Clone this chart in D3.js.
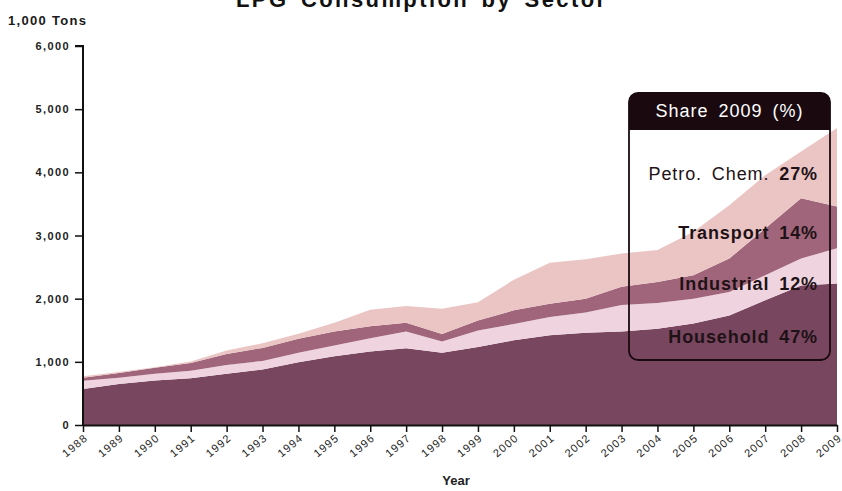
<!DOCTYPE html>
<html><head><meta charset="utf-8">
<script src="https://cdn.jsdelivr.net/npm/d3@7"></script>
<style>body{margin:0;background:#fff}svg{display:block;font-family:"Liberation Sans",Arial,sans-serif}</style>
</head><body><svg id="c" width="842" height="491"></svg>
<script>
const years = [1988,1989,1990,1991,1992,1993,1994,1995,1996,1997,1998,1999,2000,2001,2002,2003,2004,2005,2006,2007,2008,2009];
const household  = [570,650,705,740,810,880,995,1090,1165,1215,1145,1235,1340,1420,1460,1480,1525,1605,1735,1975,2210,2240];
const industrial = [130,100,105,120,140,135,150,170,210,265,175,260,260,290,320,420,405,395,370,395,425,560];
const transport  = [50,75,95,120,175,205,220,220,190,140,120,160,215,210,220,290,335,370,530,740,955,660];
const petrochem  = [20,15,10,25,55,75,80,140,260,265,400,290,485,650,625,525,505,690,845,845,740,1240];
const seriesKeys = ["Household","Industrial","Transport","Petro. Chem."];
const seriesColors = ["#78465f","#efd4df","#a0657a","#eac5c4"];
const yTicks = [0,1000,2000,3000,4000,5000,6000];
const shareLabels = ["Petro. Chem.","Transport","Industrial","Household"];
const shareValues = ["27%","14%","12%","47%"];

const rows = years.map((y,i)=>({year:y,"Household":household[i],"Industrial":industrial[i],"Transport":transport[i],"Petro. Chem.":petrochem[i]}));
const svg = d3.select("#c");
const x = d3.scaleLinear().domain([1988,2009]).range([83,837]);
const y = d3.scaleLinear().domain([0,6000]).range([425,46]);
const stack = d3.stack().keys(seriesKeys)(rows);
const area = d3.area().x(d=>x(d.data.year)).y0(d=>y(d[0])).y1(d=>y(d[1]));
svg.append("g").selectAll("path").data(stack).join("path")
  .attr("d",area).attr("fill",(d,i)=>seriesColors[i]);

// title (partly cut off at top, as in the reference)
svg.append("text").attr("x",236).attr("y",7)
  .attr("font-size",22).attr("font-weight","bold").attr("letter-spacing",2.4).attr("word-spacing",4).attr("fill","#111")
  .text("LPG Consumption by Sector");
svg.append("text").attr("x",8).attr("y",25).attr("font-size",13).attr("font-weight","bold").attr("letter-spacing",1.3).attr("fill","#1a1a1a").text("1,000 Tons");

// y axis
const ya = svg.append("g").attr("transform","translate(83,0)")
  .call(d3.axisLeft(y).tickValues(yTicks).tickFormat(d3.format(",")).tickSize(8).tickPadding(5));
ya.select(".domain").attr("stroke","#111").attr("stroke-width",2).attr("d","M-8,46H0V425");
ya.selectAll(".tick line").attr("stroke","#111").attr("stroke-width",1.5);
ya.selectAll(".tick text").attr("font-size",11).attr("font-weight","bold").attr("letter-spacing",1.4).attr("fill","#222").attr("font-family","Liberation Sans, Arial, sans-serif");

// x axis
const xa = svg.append("g").attr("transform","translate(0,425)")
  .call(d3.axisBottom(x).tickValues(years).tickFormat(d3.format("d")).tickSize(7).tickSizeOuter(0));
xa.select(".domain").attr("stroke","#111").attr("stroke-width",2);
xa.selectAll(".tick line").attr("stroke","#111").attr("stroke-width",1.5);
xa.selectAll(".tick text").attr("font-size",11).attr("letter-spacing",1.2).attr("fill","#222").attr("font-family","Liberation Sans, Arial, sans-serif")
  .attr("text-anchor","end").attr("x",0).attr("y",0).attr("dy",0).attr("transform","translate(5,14) rotate(-40)");
svg.append("text").attr("x",456).attr("y",485).attr("text-anchor","middle").attr("font-size",13).attr("font-weight","bold").attr("fill","#222").text("Year");

// share box
const bx=629, by=93, bw=201, bh=267;
svg.append("path").attr("d",`M${bx},${by+8}a8,8 0 0 1 8,-8h${bw-16}a8,8 0 0 1 8,8v${29}h${-bw}z`).attr("fill","#1a0a10");
svg.append("rect").attr("x",bx).attr("y",by).attr("width",bw).attr("height",bh).attr("rx",9)
  .attr("fill","none").attr("stroke","#1a0a10").attr("stroke-width",1.8);
svg.append("text").attr("x",bx+bw/2).attr("y",by+24).attr("text-anchor","middle").attr("font-size",18)
  .attr("fill","#fff").attr("letter-spacing",1).attr("word-spacing",4).text("Share 2009 (%)");
const ly=[180,239,290,343];
shareLabels.forEach((s,i)=>{
  const t=svg.append("text").attr("x",818).attr("y",ly[i]).attr("text-anchor","end").attr("font-size",18).attr("fill","#1e1216")
    .attr("letter-spacing",0.9).attr("word-spacing",4);
  t.append("tspan").attr("font-weight",i===0?"normal":"bold").text(s+" ");
  t.append("tspan").attr("font-weight","bold").text(shareValues[i]);
});
</script></body></html>
